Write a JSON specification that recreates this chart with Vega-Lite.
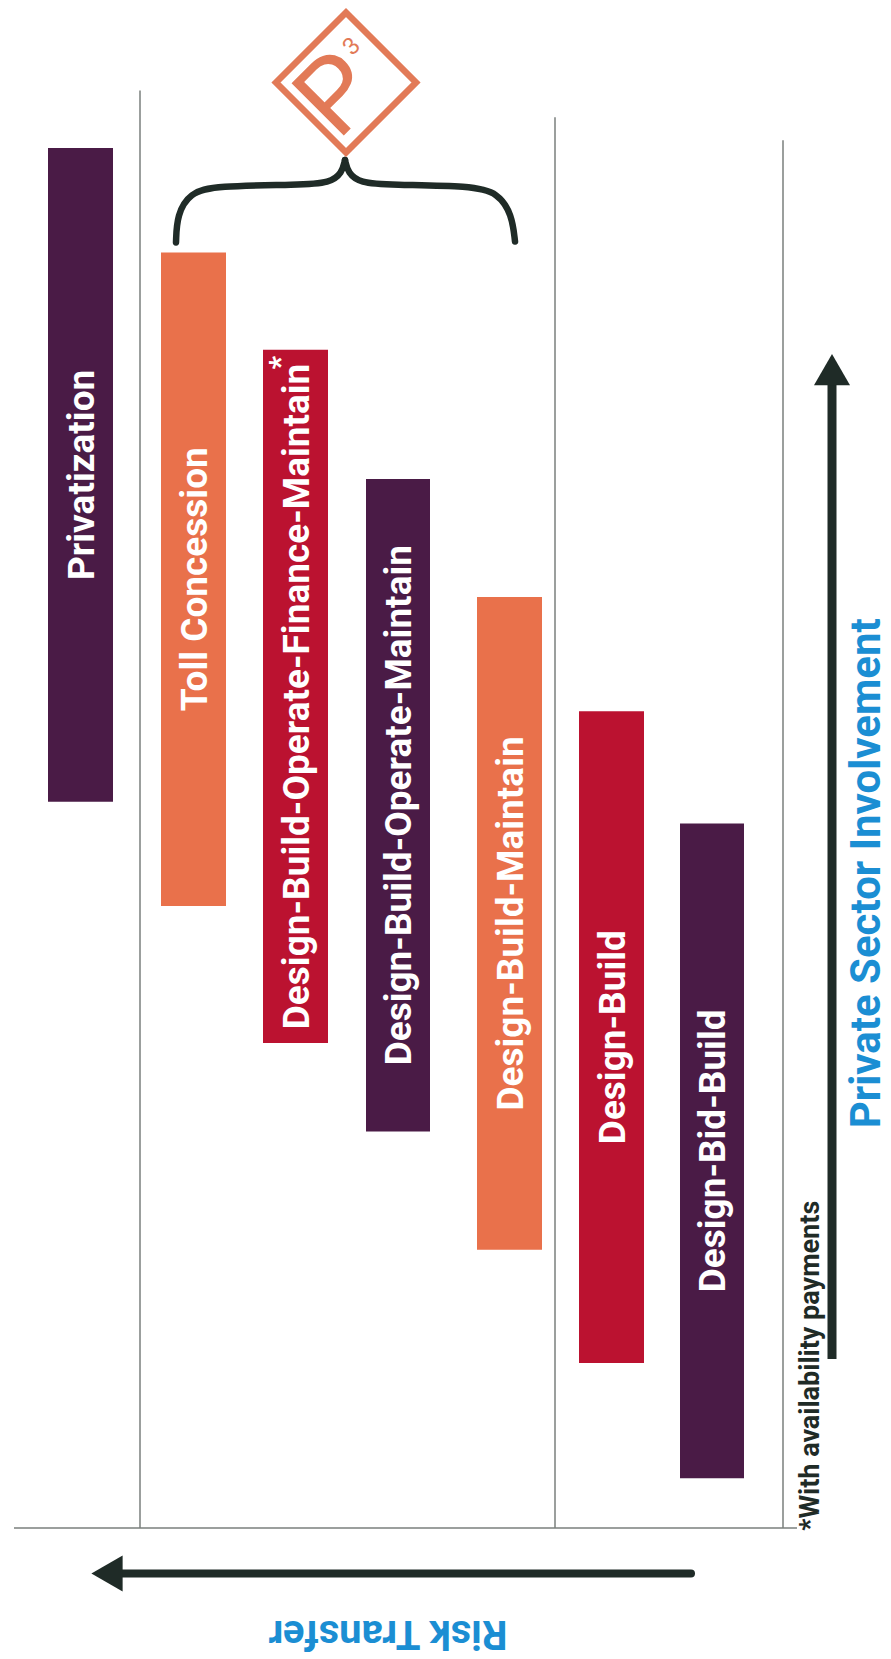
{
  "$schema": "https://vega.github.io/schema/vega-lite/v6.json",
  "width": 891,
  "height": 1659,
  "autosize": {"type": "fit", "contains": "padding"},
  "padding": 0,
  "background": "white",
  "config": {"view": {"stroke": null}},
  "datasets": {
    "models": [
      {"model": "Privatization", "x0": 48, "x1": 113, "y0": 138, "y1": 796, "tone": "purple"},
      {"model": "Toll Concession", "x0": 161, "x1": 226, "y0": 243, "y1": 901, "tone": "orange"},
      {"model": "Design-Build-Operate-Finance-Maintain", "x0": 263, "x1": 328, "y0": 341, "y1": 1039, "tone": "red"},
      {"model": "Design-Build-Operate-Maintain", "x0": 366, "x1": 430, "y0": 471, "y1": 1128, "tone": "purple"},
      {"model": "Design-Build-Maintain", "x0": 477, "x1": 542, "y0": 590, "y1": 1247, "tone": "orange"},
      {"model": "Design-Build", "x0": 579, "x1": 644, "y0": 705, "y1": 1361, "tone": "red"},
      {"model": "Design-Bid-Build", "x0": 680, "x1": 744, "y0": 818, "y1": 1477, "tone": "purple"}
    ],
    "dividers": [
      {"x": 140, "ytop": 80, "ybot": 1527},
      {"x": 555, "ytop": 107, "ybot": 1527},
      {"x": 783, "ytop": 130, "ybot": 1527}
    ],
    "baseline": [{"xa": 14, "xb": 797, "y": 1527}],
    "brace": [
      {"side": "left", "i": 0, "x": 176, "y": 233},
      {"side": "left", "i": 1, "x": 177, "y": 205},
      {"side": "left", "i": 2, "x": 190, "y": 183},
      {"side": "left", "i": 3, "x": 215, "y": 176},
      {"side": "left", "i": 4, "x": 300, "y": 175},
      {"side": "left", "i": 5, "x": 330, "y": 173},
      {"side": "left", "i": 6, "x": 342, "y": 163},
      {"side": "left", "i": 7, "x": 345, "y": 150},
      {"side": "right", "i": 0, "x": 345, "y": 150},
      {"side": "right", "i": 1, "x": 348, "y": 163},
      {"side": "right", "i": 2, "x": 360, "y": 173},
      {"side": "right", "i": 3, "x": 390, "y": 175},
      {"side": "right", "i": 4, "x": 472, "y": 176},
      {"side": "right", "i": 5, "x": 498, "y": 183},
      {"side": "right", "i": 6, "x": 512, "y": 205},
      {"side": "right", "i": 7, "x": 515, "y": 232}
    ],
    "logo": [{"x": 346, "y": 72}],
    "logoP": [{"x": 339, "y": 86, "t": "P"}],
    "logo3": [{"x": 352, "y": 36, "t": "3"}],
    "vArrow": [{"x": 832, "ya": 1357, "yb": 375, "tipy": 361}],
    "hArrow": [{"y": 1573, "xa": 691, "xb": 115, "tipx": 107}],
    "star": [{"x": 281, "y": 354, "t": "*"}],
    "vTitle": [{"x": 867, "y": 868, "t": "Private Sector Involvement"}],
    "hTitle": [{"x": 388, "y": 1633, "t": "Risk Transfer"}],
    "note": [{"x": 811, "y": 1530, "t": "*With availability payments"}]
  },
  "layer": [
    {
      "data": {"name": "dividers"},
      "mark": {"type": "rule", "color": "#7a7f7d", "strokeWidth": 1.5},
      "encoding": {
        "x": {"field": "x", "type": "quantitative", "scale": {"domain": [0, 891]}, "axis": null},
        "y": {"field": "ytop", "type": "quantitative", "scale": {"domain": [0, 1659], "reverse": true}, "axis": null},
        "y2": {"field": "ybot"}
      }
    },
    {
      "data": {"name": "baseline"},
      "mark": {"type": "rule", "color": "#7a7f7d", "strokeWidth": 1.5},
      "encoding": {
        "x": {"field": "xa", "type": "quantitative", "scale": {"domain": [0, 891]}, "axis": null},
        "x2": {"field": "xb"},
        "y": {"field": "y", "type": "quantitative", "scale": {"domain": [0, 1659], "reverse": true}, "axis": null}
      }
    },
    {
      "data": {"name": "models"},
      "mark": {"type": "rect"},
      "encoding": {
        "x": {"field": "x0", "type": "quantitative", "scale": {"domain": [0, 891]}, "axis": null},
        "x2": {"field": "x1"},
        "y": {"field": "y0", "type": "quantitative", "scale": {"domain": [0, 1659], "reverse": true}, "axis": null},
        "y2": {"field": "y1"},
        "color": {"field": "tone", "type": "nominal", "scale": {"domain": ["purple", "orange", "red"], "range": ["#4a1b46", "#e9714b", "#bb1230"]}, "legend": null}
      }
    },
    {
      "data": {"name": "models"},
      "transform": [
        {"calculate": "(datum.x0 + datum.x1) / 2", "as": "xm"},
        {"calculate": "(datum.y0 + datum.y1) / 2", "as": "ym"}
      ],
      "mark": {"type": "text", "angle": 270, "align": "center", "baseline": "middle", "dy": 2, "font": "Roboto", "fontWeight": "bold", "fontSize": 37, "color": "white"},
      "encoding": {
        "x": {"field": "xm", "type": "quantitative", "scale": {"domain": [0, 891]}, "axis": null},
        "y": {"field": "ym", "type": "quantitative", "scale": {"domain": [0, 1659], "reverse": true}, "axis": null},
        "text": {"field": "model"}
      }
    },
    {
      "data": {"name": "star"},
      "mark": {"type": "text", "angle": 270, "align": "center", "baseline": "middle", "font": "Roboto", "fontWeight": "bold", "fontSize": 30, "color": "white"},
      "encoding": {
        "x": {"field": "x", "type": "quantitative", "scale": {"domain": [0, 891]}, "axis": null},
        "y": {"field": "y", "type": "quantitative", "scale": {"domain": [0, 1659], "reverse": true}, "axis": null},
        "text": {"field": "t"}
      }
    },
    {
      "data": {"name": "brace"},
      "mark": {"type": "line", "interpolate": "basis", "color": "#1f2b27", "strokeWidth": 6.5, "strokeCap": "round"},
      "encoding": {
        "x": {"field": "x", "type": "quantitative", "scale": {"domain": [0, 891]}, "axis": null},
        "y": {"field": "y", "type": "quantitative", "scale": {"domain": [0, 1659], "reverse": true}, "axis": null},
        "detail": {"field": "side"},
        "order": {"field": "i"}
      }
    },
    {
      "data": {"name": "logo"},
      "mark": {"type": "point", "shape": "diamond", "filled": false, "size": 19600, "color": "#e27a57", "strokeWidth": 6.5, "opacity": 1},
      "encoding": {
        "x": {"field": "x", "type": "quantitative", "scale": {"domain": [0, 891]}, "axis": null},
        "y": {"field": "y", "type": "quantitative", "scale": {"domain": [0, 1659], "reverse": true}, "axis": null}
      }
    },
    {
      "data": {"name": "logoP"},
      "mark": {"type": "text", "angle": -45, "align": "center", "baseline": "middle", "font": "Roboto", "fontWeight": "normal", "fontSize": 104, "color": "#e27a57"},
      "encoding": {
        "x": {"field": "x", "type": "quantitative", "scale": {"domain": [0, 891]}, "axis": null},
        "y": {"field": "y", "type": "quantitative", "scale": {"domain": [0, 1659], "reverse": true}, "axis": null},
        "text": {"field": "t"}
      }
    },
    {
      "data": {"name": "logo3"},
      "mark": {"type": "text", "angle": -45, "align": "center", "baseline": "middle", "font": "Roboto", "fontWeight": "normal", "fontSize": 24, "color": "#e27a57"},
      "encoding": {
        "x": {"field": "x", "type": "quantitative", "scale": {"domain": [0, 891]}, "axis": null},
        "y": {"field": "y", "type": "quantitative", "scale": {"domain": [0, 1659], "reverse": true}, "axis": null},
        "text": {"field": "t"}
      }
    },
    {
      "data": {"name": "vArrow"},
      "mark": {"type": "rule", "color": "#1f2b27", "strokeWidth": 9},
      "encoding": {
        "x": {"field": "x", "type": "quantitative", "scale": {"domain": [0, 891]}, "axis": null},
        "y": {"field": "ya", "type": "quantitative", "scale": {"domain": [0, 1659], "reverse": true}, "axis": null},
        "y2": {"field": "yb"}
      }
    },
    {
      "data": {"name": "vArrow"},
      "mark": {"type": "point", "shape": "triangle-up", "filled": true, "size": 1300, "color": "#1f2b27", "opacity": 1},
      "encoding": {
        "x": {"field": "x", "type": "quantitative", "scale": {"domain": [0, 891]}, "axis": null},
        "y": {"field": "tipy", "type": "quantitative", "scale": {"domain": [0, 1659], "reverse": true}, "axis": null}
      }
    },
    {
      "data": {"name": "hArrow"},
      "mark": {"type": "rule", "color": "#1f2b27", "strokeWidth": 8, "strokeCap": "round"},
      "encoding": {
        "x": {"field": "xa", "type": "quantitative", "scale": {"domain": [0, 891]}, "axis": null},
        "x2": {"field": "xb"},
        "y": {"field": "y", "type": "quantitative", "scale": {"domain": [0, 1659], "reverse": true}, "axis": null}
      }
    },
    {
      "data": {"name": "hArrow"},
      "mark": {"type": "point", "shape": "triangle-left", "filled": true, "size": 1300, "color": "#1f2b27", "opacity": 1},
      "encoding": {
        "x": {"field": "tipx", "type": "quantitative", "scale": {"domain": [0, 891]}, "axis": null},
        "y": {"field": "y", "type": "quantitative", "scale": {"domain": [0, 1659], "reverse": true}, "axis": null}
      }
    },
    {
      "data": {"name": "vTitle"},
      "mark": {"type": "text", "angle": 270, "align": "center", "baseline": "middle", "font": "Roboto", "fontWeight": "bold", "fontSize": 42, "color": "#1b8ed3"},
      "encoding": {
        "x": {"field": "x", "type": "quantitative", "scale": {"domain": [0, 891]}, "axis": null},
        "y": {"field": "y", "type": "quantitative", "scale": {"domain": [0, 1659], "reverse": true}, "axis": null},
        "text": {"field": "t"}
      }
    },
    {
      "data": {"name": "hTitle"},
      "mark": {"type": "text", "angle": 180, "align": "center", "baseline": "middle", "font": "Roboto", "fontWeight": "bold", "fontSize": 40, "color": "#1b8ed3"},
      "encoding": {
        "x": {"field": "x", "type": "quantitative", "scale": {"domain": [0, 891]}, "axis": null},
        "y": {"field": "y", "type": "quantitative", "scale": {"domain": [0, 1659], "reverse": true}, "axis": null},
        "text": {"field": "t"}
      }
    },
    {
      "data": {"name": "note"},
      "mark": {"type": "text", "angle": 270, "align": "left", "baseline": "middle", "font": "Roboto", "fontWeight": "bold", "fontSize": 27, "color": "#1f2b27"},
      "encoding": {
        "x": {"field": "x", "type": "quantitative", "scale": {"domain": [0, 891]}, "axis": null},
        "y": {"field": "y", "type": "quantitative", "scale": {"domain": [0, 1659], "reverse": true}, "axis": null},
        "text": {"field": "t"}
      }
    }
  ]
}
